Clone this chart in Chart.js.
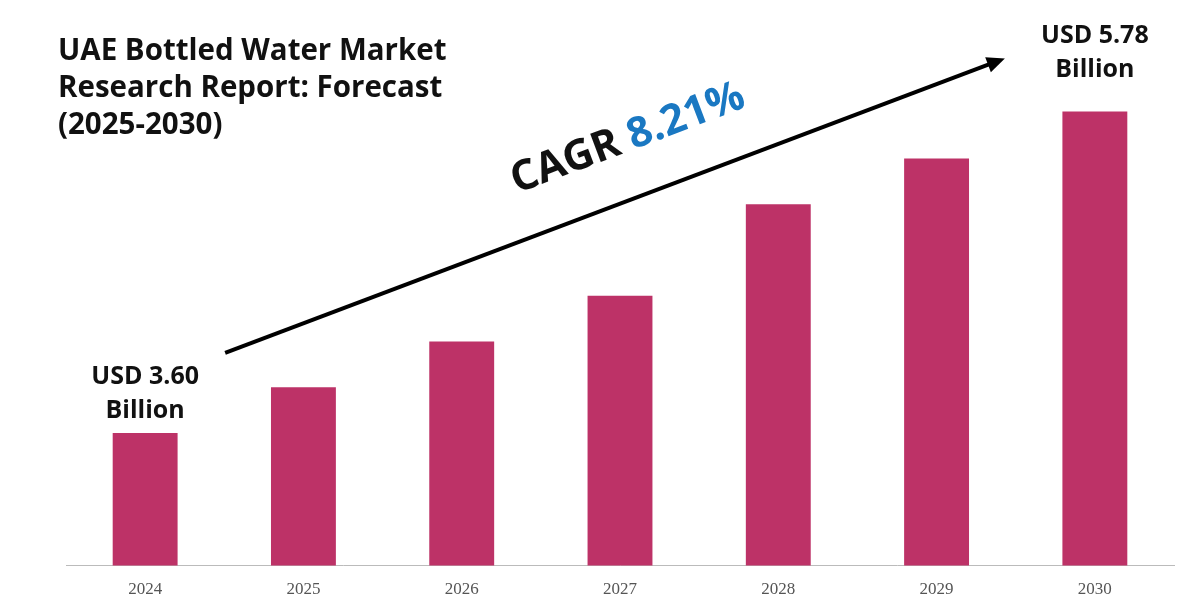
<!DOCTYPE html>
<html>
<head>
<meta charset="utf-8">
<script src="https://cdn.jsdelivr.net/npm/chart.js@4/dist/chart.umd.min.js"></script>
<style>
  html, body { margin: 0; padding: 0; background: #fff; overflow: hidden; }
  #wrap { width: 1200px; height: 614px; }
</style>
</head>
<body>
<div id="wrap"><canvas id="MarketChart"></canvas></div>
<script>
const years = ["2024", "2025", "2026", "2027", "2028", "2029", "2030"];
const marketValues = [3.60, 3.91, 4.22, 4.53, 5.15, 5.46, 5.78];
const titleLines = ["UAE Bottled Water Market", "Research Report: Forecast", "(2025-2030)"];
const startLabel = ["USD 3.60", "Billion"];
const endLabel = ["USD 5.78", "Billion"];
const cagrText = "8.21%";

// draws title, value callouts and the CAGR arrow
const overlayPlugin = {
  id: "overlay",
  afterDraw(chart) {
    const ctx = chart.ctx;
    const x = chart.scales.x;
    const y = chart.scales.y;
    ctx.save();

    ctx.fillStyle = "#111";
    ctx.font = "bold 29.5px 'Open Sans', sans-serif";
    ctx.textAlign = "left";
    ctx.textBaseline = "middle";
    titleLines.forEach((t, i) => ctx.fillText(t, 58, 52 + i * 37));

    ctx.font = "bold 25px 'Open Sans', sans-serif";
    ctx.textAlign = "center";
    const x0 = x.getPixelForValue(0);
    const y0 = y.getPixelForValue(marketValues[0]);
    ctx.fillText(startLabel[0], x0, y0 - 56);
    ctx.fillText(startLabel[1], x0, y0 - 22);
    const x6 = x.getPixelForValue(6);
    const y6 = y.getPixelForValue(marketValues[6]);
    ctx.fillText(endLabel[0], x6, y6 - 76);
    ctx.fillText(endLabel[1], x6, y6 - 42);

    // arrow
    const ax1 = x0 + 80, ay1 = y0 - 80;
    const ax2 = x6 - 90, ay2 = y6 - 53;
    const ang = Math.atan2(ay2 - ay1, ax2 - ax1);
    ctx.strokeStyle = "#000";
    ctx.lineWidth = 4;
    ctx.beginPath();
    ctx.moveTo(ax1, ay1);
    ctx.lineTo(ax2 - 10 * Math.cos(ang), ay2 - 10 * Math.sin(ang));
    ctx.stroke();
    ctx.fillStyle = "#000";
    ctx.beginPath();
    ctx.moveTo(ax2, ay2);
    ctx.lineTo(ax2 - 18 * Math.cos(ang) + 8 * Math.sin(ang), ay2 - 18 * Math.sin(ang) - 8 * Math.cos(ang));
    ctx.lineTo(ax2 - 18 * Math.cos(ang) - 8 * Math.sin(ang), ay2 - 18 * Math.sin(ang) + 8 * Math.cos(ang));
    ctx.closePath();
    ctx.fill();

    // CAGR text
    ctx.translate(632, 150);
    ctx.rotate(ang);
    ctx.font = "bold 42px 'Open Sans', sans-serif";
    ctx.textAlign = "left";
    ctx.textBaseline = "alphabetic";
    const part1 = "CAGR ";
    const w1 = ctx.measureText(part1).width;
    const w2 = ctx.measureText(cagrText).width;
    const sx = -(w1 + w2) / 2;
    ctx.fillStyle = "#111";
    ctx.fillText(part1, sx, 0);
    ctx.fillStyle = "#1a78c2";
    ctx.fillText(cagrText, sx + w1, 0);
    ctx.restore();
  }
};

new Chart(document.getElementById("MarketChart"), {
  type: "bar",
  data: {
    labels: years,
    datasets: [{
      data: marketValues,
      backgroundColor: "#bd3267",
      categoryPercentage: 1,
      barPercentage: 0.41
    }]
  },
  options: {
    responsive: true,
    maintainAspectRatio: false,
    animation: false,
    layout: { padding: { left: 66, right: 26, top: 20, bottom: 0 } },
    plugins: { legend: { display: false }, tooltip: { enabled: false } },
    scales: {
      x: {
        grid: { display: false, drawTicks: false },
        border: { color: "#bbb", width: 1 },
        ticks: { color: "#555", padding: 14, font: { family: "'Liberation Serif', serif", size: 17 } }
      },
      y: { display: false, min: 2.7, max: 6.4 }
    }
  },
  plugins: [overlayPlugin]
});
</script>
</body>
</html>
